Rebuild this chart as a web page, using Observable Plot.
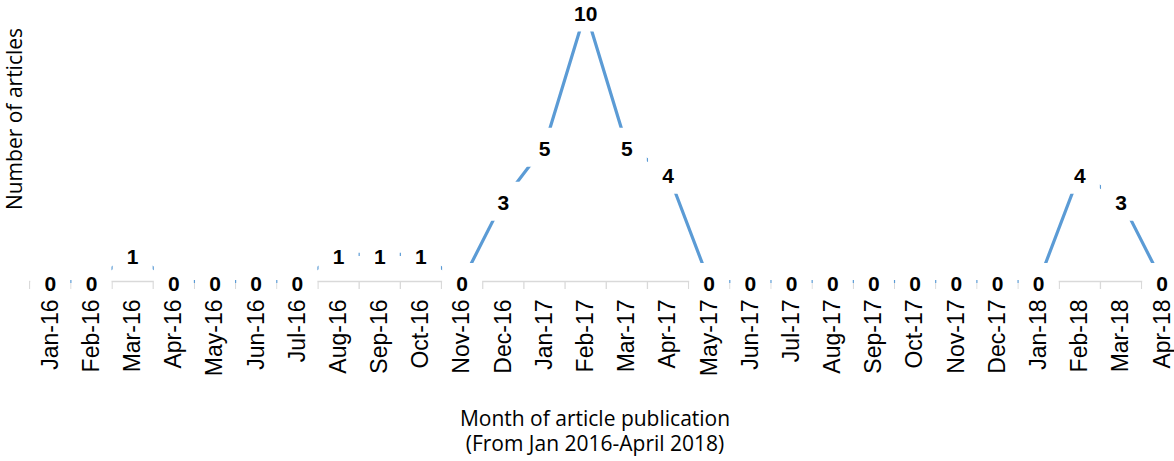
<!DOCTYPE html>
<html>
<head>
<meta charset="utf-8">
<script src="https://cdn.jsdelivr.net/npm/d3@7"></script>
<script src="https://cdn.jsdelivr.net/npm/@observablehq/plot@0.6"></script>
<style>
  html, body { margin: 0; padding: 0; background: white; }
</style>
</head>
<body>
<div id="chart"></div>
<script>
const months = ["Jan-16","Feb-16","Mar-16","Apr-16","May-16","Jun-16","Jul-16","Aug-16","Sep-16","Oct-16","Nov-16","Dec-16",
  "Jan-17","Feb-17","Mar-17","Apr-17","May-17","Jun-17","Jul-17","Aug-17","Sep-17","Oct-17","Nov-17","Dec-17",
  "Jan-18","Feb-18","Mar-18","Apr-18"];
const articles = [0,0,1,0,0,0,0,1,1,1,0,3,5,10,5,4,0,0,0,0,0,0,0,0,0,4,3,0];
const xTitle = ["Month of article publication", "(From Jan 2016-April 2018)"];
const yTitle = "Number of articles";

const data = months.map((m, i) => ({i, month: m, n: articles[i]}));
const boundaries = d3.range(months.length + 1).map(i => i - 0.5);

const box1 = {draw(ctx) { ctx.rect(-20, -18.5, 40, 39); }};
const box2 = {draw(ctx) { ctx.rect(-25, -18.5, 50, 39); }};

const chart = Plot.plot({
  width: 1174,
  height: 461,
  marginTop: 10.5,
  marginBottom: 180,
  marginLeft: 29.2,
  marginRight: 0,
  x: {domain: [-0.5, months.length - 0.5], range: [29.2, 1182.3], axis: null, label: null},
  y: {domain: [0, 10], axis: null, label: null},
  style: {background: "white", overflow: "visible"},
  marks: [
    Plot.axisX(boundaries, {tickSize: 8, tickFormat: () => "", label: null, stroke: "#d9d9d9", strokeWidth: 1.3}),
    Plot.ruleY([0], {stroke: "#d9d9d9", strokeWidth: 1.3}),
    Plot.line(data, {x: "i", y: "n", stroke: "#5b9bd5", strokeWidth: 3.2}),
    Plot.dot(data.filter(d => String(d.n).length === 1), {x: "i", y: "n", symbol: box1, fill: "white"}),
    Plot.dot(data.filter(d => String(d.n).length > 1), {x: "i", y: "n", symbol: box2, fill: "white"}),
    Plot.text(data, {x: "i", y: "n", text: d => String(d.n), fontWeight: "bold", fontSize: 21,
      fontFamily: "Liberation Sans, Arial, sans-serif", dy: 3, fill: "black"}),
    Plot.text(data, {x: "i", text: "month", frameAnchor: "bottom", rotate: -90, textAnchor: "end",
      lineAnchor: "middle", dy: 18, fontSize: 23, fontFamily: "Liberation Sans, Arial, sans-serif", fill: "black"})
  ]
});

const svg = d3.select(chart);
svg.append("text")
  .attr("transform", "translate(21.5,119) rotate(-90)")
  .attr("text-anchor", "middle")
  .attr("font-family", "Open Sans, sans-serif")
  .attr("font-size", 21)
  .attr("fill", "black")
  .text(yTitle);
xTitle.forEach((t, k) => {
  svg.append("text")
    .attr("x", 595)
    .attr("y", 426 + k * 25)
    .attr("text-anchor", "middle")
    .attr("font-family", "Open Sans, sans-serif")
    .attr("font-size", 21)
    .attr("fill", "black")
    .text(t);
});
document.getElementById("chart").appendChild(chart);
</script>
</body>
</html>
